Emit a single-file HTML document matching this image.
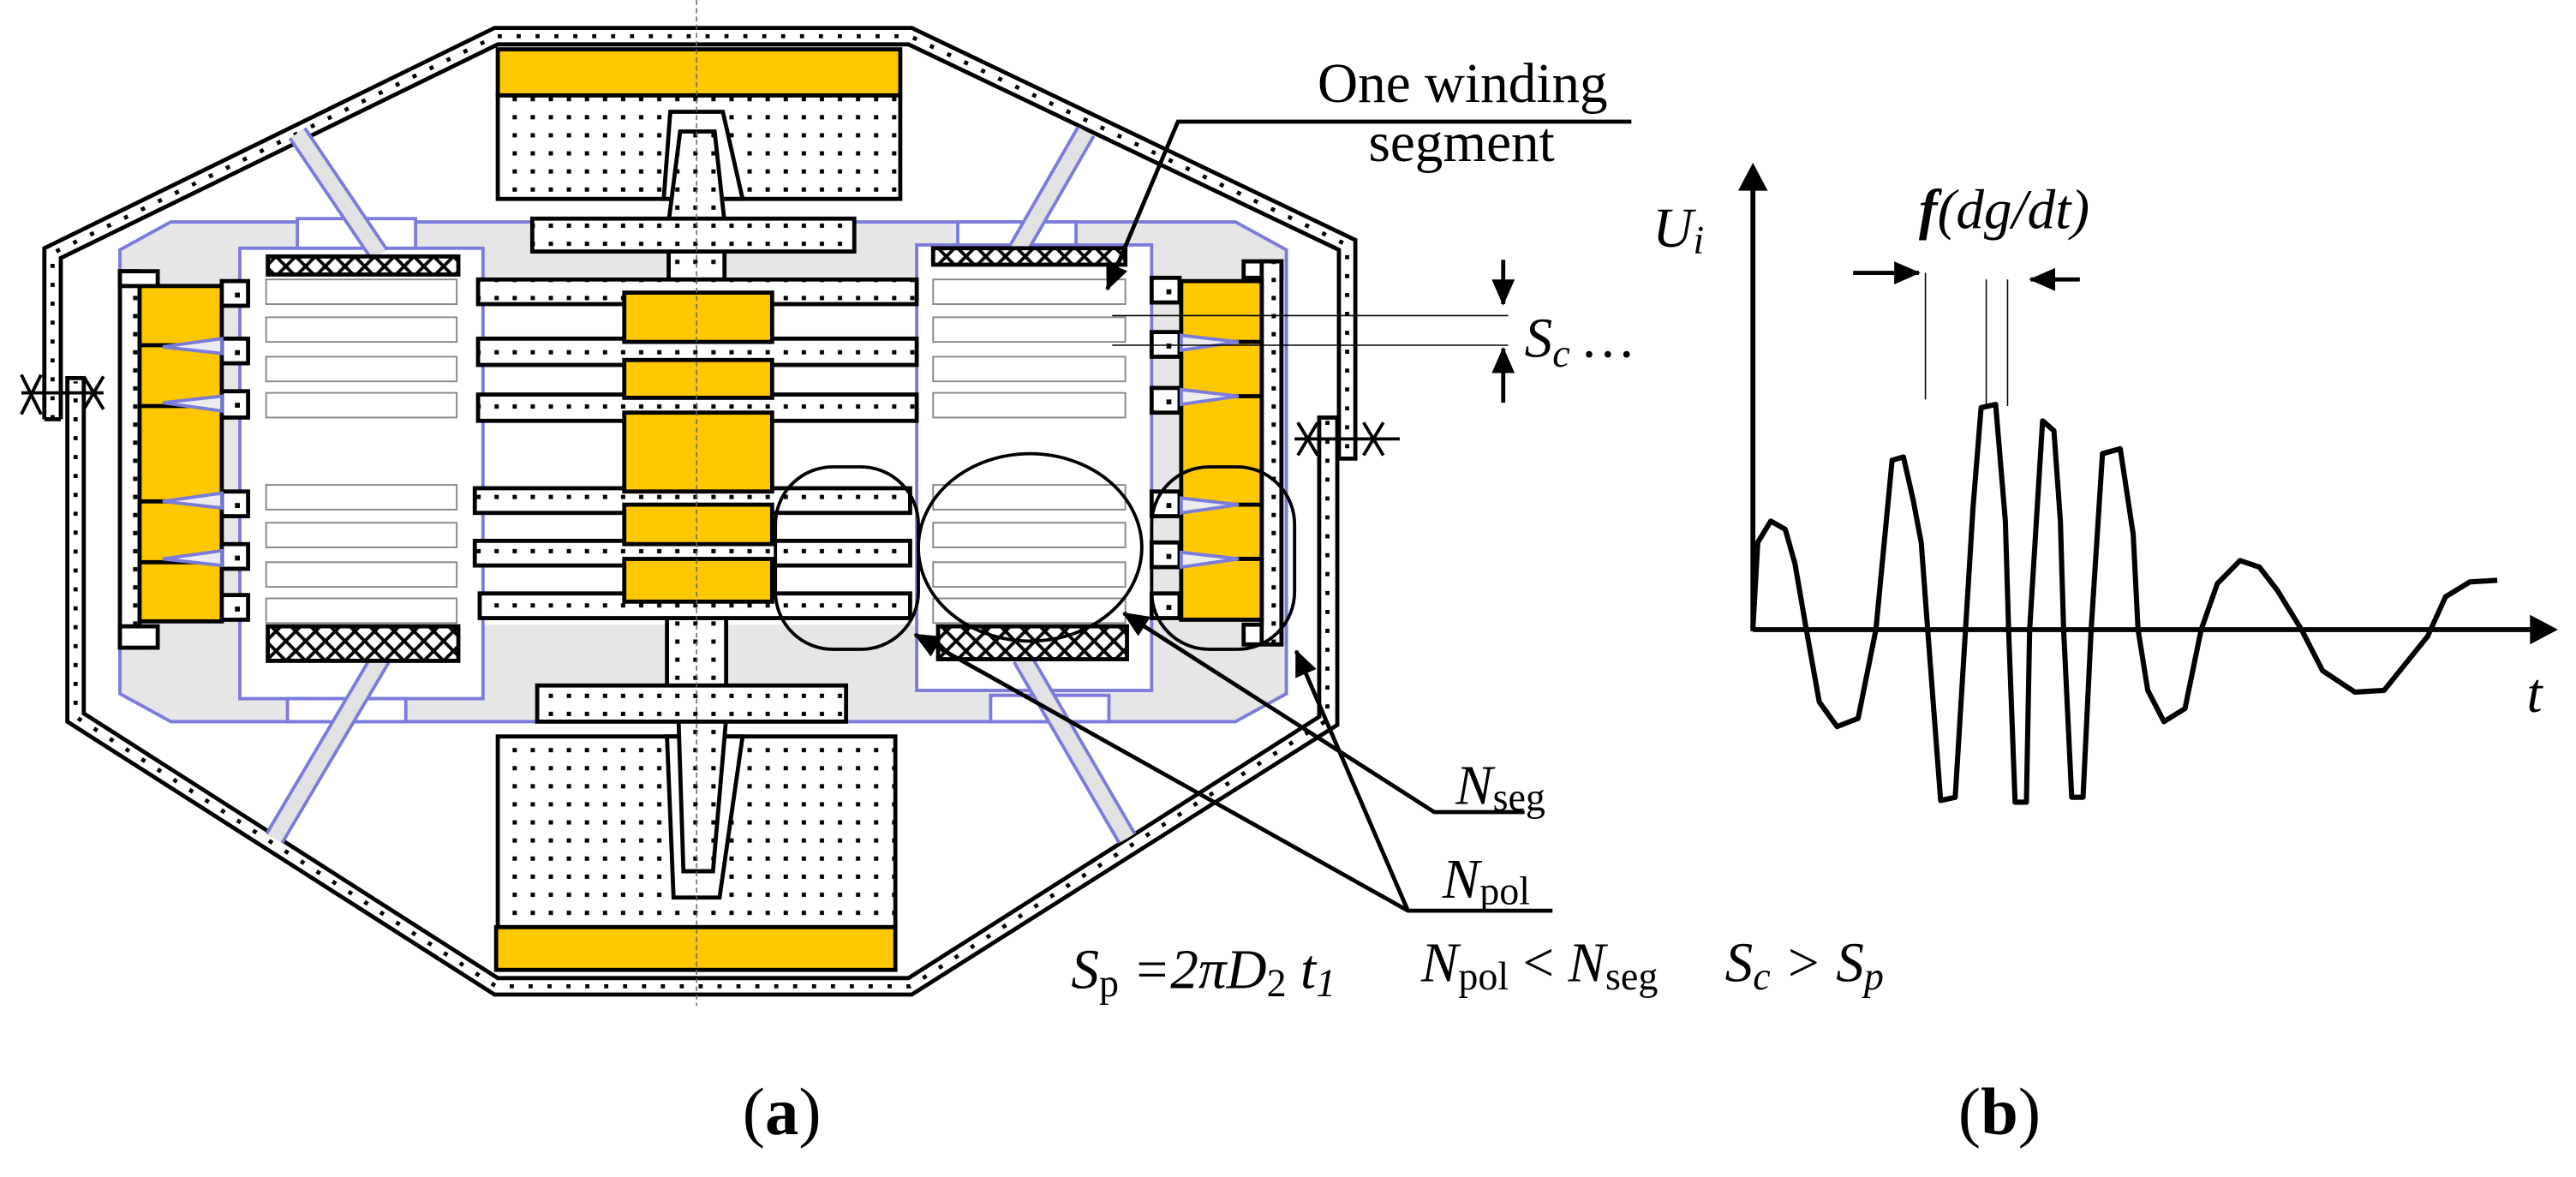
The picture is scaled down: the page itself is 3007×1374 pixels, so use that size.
<!DOCTYPE html>
<html><head><meta charset="utf-8"><style>html,body{margin:0;padding:0;background:#fff}svg{display:block}</style></head>
<body>
<svg xmlns="http://www.w3.org/2000/svg" width="3007" height="1374" viewBox="0 0 1568 716" preserveAspectRatio="none" font-family="'Liberation Serif',serif">
<defs>
<pattern id="dots" width="11" height="11" patternUnits="userSpaceOnUse"><rect width="11" height="11" fill="#fff"/><rect x="4" y="4" width="2.6" height="2.6" fill="#000"/></pattern>
<pattern id="xh" width="12" height="12" patternUnits="userSpaceOnUse"><rect width="12" height="12" fill="#fff"/><path d="M0,0L12,12M12,0L0,12" stroke="#000" stroke-width="2"/></pattern>
<marker id="ah2" markerWidth="16" markerHeight="14" refX="15" refY="7" orient="auto" markerUnits="userSpaceOnUse"><path d="M0,0L16,7L0,14z" fill="#000"/></marker>
</defs>

<!-- outer ring -->
<g fill="none" stroke="#000" stroke-width="2.5">
<path d="M27,255L27,151L301,17L555,17L825,146L825,279L815,279"/>
<path d="M814,254L814,441L555,605L301,605L41,439L41,230L51,230"/>
<path d="M37,255L27,255M37,255L37,157L303,27L553,27L815,152L815,279"/>
<path d="M814,254L803,254L803,436L553,595L303,595L51,434L51,230"/>
</g>
<g fill="none" stroke="#000" stroke-width="2.5" stroke-dasharray="2.5 9">
<path d="M32,255L32,154L302,22L554,22L820,149L820,279"/>
<path d="M808,256L808,438L554,600L302,600L46,436L46,232"/>
</g>
<g stroke="#000" stroke-width="2">
<path d="M13,239L63,239M13,228L25,252M25,228L13,252M51,229L63,249M63,229L51,249"/>
<path d="M788,267L852,267M790,257L802,277M802,257L790,277M830,257L842,277M842,257L830,277"/>
</g>

<!-- gray region -->
<path d="M104,135L752,135L783,152L783,422L752,439L104,439L73,422L73,152Z" fill="#e6e6e6" stroke="#7b7bdb" stroke-width="2"/>
<rect x="294" y="168" width="264" height="212" fill="#fff"/>
<rect x="146" y="151" width="148" height="274" fill="#fff" stroke="#7b7bdb" stroke-width="2"/>
<rect x="558" y="149" width="143" height="271" fill="#fff" stroke="#7b7bdb" stroke-width="2"/>
<g fill="#fff" stroke="#7b7bdb" stroke-width="2">
<rect x="181" y="133" width="72" height="18"/><rect x="583" y="135" width="72" height="14"/>
<rect x="175" y="425" width="72" height="14"/><rect x="603" y="423" width="72" height="16"/>
</g>
<!-- struts -->
<g stroke="#7b7bdb" stroke-width="13"><path d="M181,81L231,155M661,80L619,153M232,400L167,510M622,400L686,510"/></g>
<g stroke="#e2e2e2" stroke-width="9"><path d="M181,81L231,155M661,80L619,153M232,400L167,510M622,400L686,510"/></g>

<!-- top block -->
<g stroke="#000" stroke-width="2.5">
<rect x="303" y="58" width="245" height="63" fill="url(#dots)"/>
<rect x="303" y="30" width="245" height="28" fill="#fdc800"/>
<polygon points="408,68 440,68 452,121 404,121" fill="#fff"/>
<polygon points="414,80 435,80 441,135 407,135" fill="url(#dots)"/>
<rect x="407" y="150" width="34" height="22" fill="url(#dots)"/>
<rect x="324" y="133" width="196" height="20" fill="url(#dots)"/>
<!-- bottom block -->
<rect x="303" y="448" width="242" height="116" fill="url(#dots)"/>
<polygon points="406,448 452,448 438,546 410,546" fill="#fff"/>
<polygon points="413,437 442,437 434,530 416,530" fill="url(#dots)"/>
<rect x="406" y="374" width="36" height="45" fill="url(#dots)"/>
<rect x="327" y="417" width="188" height="22" fill="url(#dots)"/>
<rect x="302" y="564" width="243" height="26" fill="#fdc800"/>
<!-- bars -->
<rect x="291" y="170" width="267" height="15" fill="url(#dots)"/>
<rect x="291" y="206" width="267" height="16" fill="url(#dots)"/>
<rect x="291" y="240" width="267" height="16" fill="url(#dots)"/>
<rect x="289" y="297" width="265" height="15" fill="url(#dots)"/>
<rect x="289" y="329" width="265" height="15" fill="url(#dots)"/>
<rect x="292" y="361" width="262" height="15" fill="url(#dots)"/>
<g fill="#fdc800">
<rect x="380" y="178" width="90" height="30"/><rect x="380" y="219" width="90" height="23"/>
<rect x="380" y="251" width="90" height="48"/><rect x="380" y="307" width="90" height="24"/>
<rect x="380" y="340" width="90" height="26"/>
</g>
</g>

<!-- slots -->
<g fill="#fff" stroke="#888" stroke-width="1">
<rect x="162" y="170" width="116" height="15"/><rect x="162" y="193" width="116" height="15"/>
<rect x="162" y="217" width="116" height="15"/><rect x="162" y="239" width="116" height="15"/>
<rect x="162" y="295" width="116" height="15"/><rect x="162" y="318" width="116" height="15"/>
<rect x="162" y="342" width="116" height="15"/><rect x="162" y="364" width="116" height="15"/>
<rect x="568" y="170" width="117" height="15"/><rect x="568" y="193" width="117" height="15"/>
<rect x="568" y="217" width="117" height="15"/><rect x="568" y="239" width="117" height="15"/>
<rect x="568" y="295" width="117" height="15"/><rect x="568" y="318" width="117" height="15"/>
<rect x="568" y="342" width="117" height="15"/><rect x="568" y="364" width="117" height="15"/>
</g>
<!-- crosshatch -->
<g stroke="#000" stroke-width="2.5" fill="url(#xh)">
<rect x="163" y="156" width="116" height="11"/><rect x="163" y="381" width="116" height="21"/>
<rect x="568" y="151" width="117" height="10"/><rect x="571" y="381" width="115" height="20"/>
</g>

<!-- side columns -->
<g stroke="#000" stroke-width="2.5">
<rect x="73" y="165" width="12" height="229" fill="url(#dots)"/>
<rect x="73" y="165" width="23" height="9" fill="#fff"/><rect x="73" y="381" width="23" height="13" fill="#fff"/>
<rect x="85" y="174" width="50" height="204" fill="#fdc800"/>
<path d="M85,210L135,210M85,247L135,247M85,305L135,305M85,342L135,342"/>
<g fill="#fff"><rect x="135" y="171" width="16" height="15"/><rect x="135" y="206" width="16" height="15"/><rect x="135" y="238" width="16" height="16"/><rect x="135" y="299" width="16" height="15"/><rect x="135" y="331" width="16" height="15"/><rect x="135" y="362" width="16" height="15"/></g>
<rect x="757" y="159" width="23" height="10" fill="#fff"/><rect x="757" y="380" width="23" height="12" fill="#fff"/>
<rect x="768" y="159" width="12" height="233" fill="url(#dots)"/>
<rect x="719" y="171" width="49" height="206" fill="#fdc800"/>
<path d="M719,208L768,208M719,241L768,241M719,307L768,307M719,340L768,340"/>
<g fill="#fff"><rect x="701" y="169" width="17" height="15"/><rect x="701" y="202" width="17" height="15"/><rect x="701" y="236" width="17" height="15"/><rect x="701" y="299" width="17" height="15"/><rect x="701" y="330" width="17" height="15"/><rect x="701" y="361" width="17" height="15"/></g>
</g>
<g fill="#000"><rect x="143" y="178" width="3" height="3"/><rect x="143" y="213" width="3" height="3"/><rect x="143" y="245" width="3" height="3"/><rect x="143" y="306" width="3" height="3"/><rect x="143" y="338" width="3" height="3"/><rect x="143" y="369" width="3" height="3"/>
<rect x="710" y="176" width="3" height="3"/><rect x="710" y="209" width="3" height="3"/><rect x="710" y="243" width="3" height="3"/><rect x="710" y="306" width="3" height="3"/><rect x="710" y="337" width="3" height="3"/><rect x="710" y="368" width="3" height="3"/></g>
<g fill="#ececec" stroke="#7b7bdb" stroke-width="2">
<polygon points="135,206 135,215 99,211"/><polygon points="135,241 135,250 99,245"/><polygon points="135,300 135,309 99,305"/><polygon points="135,335 135,344 99,340"/>
<polygon points="719,204 719,213 754,208"/><polygon points="719,237 719,246 754,241"/><polygon points="719,303 719,312 754,307"/><polygon points="719,336 719,345 754,340"/>
</g>

<line x1="424" y1="0" x2="424" y2="612" stroke="#666" stroke-width="0.8" stroke-dasharray="3 2"/>

<!-- ellipses -->
<g fill="none" stroke="#000" stroke-width="2">
<rect x="472" y="284" width="87" height="111" rx="35"/>
<ellipse cx="627" cy="333" rx="68" ry="57"/>
<rect x="701" y="284" width="87" height="111" rx="35"/>
</g>

<!-- leaders -->
<g fill="none" stroke="#000" stroke-width="2.5">
<polyline points="993,74 717,74 674,176" marker-end="url(#ah2)"/>
<polyline points="928,494 873,494 684,373" marker-end="url(#ah2)"/>
<polyline points="945,554 857,554 557,386" marker-end="url(#ah2)"/>
<polyline points="857,554 789,396" marker-end="url(#ah2)"/>
<line x1="915" y1="158" x2="915" y2="185" marker-end="url(#ah2)"/>
<line x1="915" y1="245" x2="915" y2="212" marker-end="url(#ah2)"/>
</g>
<g stroke="#000" stroke-width="0.8"><line x1="677" y1="192" x2="918" y2="192"/><line x1="677" y1="210" x2="918" y2="210"/></g>

<g font-size="34" fill="#000">
<text x="802" y="62">One winding</text>
<text x="833" y="98">segment</text>
<text x="928" y="217" font-style="italic">S<tspan font-size="24" dy="6">c</tspan><tspan dy="-6"> …</tspan></text>
<text x="886" y="489" font-style="italic">N<tspan font-style="normal" font-size="24" dy="4">seg</tspan></text>
<text x="878" y="546" font-style="italic">N<tspan font-style="normal" font-size="24" dy="4">pol</tspan></text>
<text x="652" y="601" font-style="italic">S<tspan font-style="normal" font-size="24" dy="5">p</tspan><tspan dy="-5"> =2</tspan><tspan>π</tspan>D<tspan font-style="normal" font-size="24" dy="5">2</tspan><tspan dy="-5"> t</tspan><tspan font-size="24" dy="5">1</tspan></text>
<text x="865" y="597" font-style="italic">N<tspan font-style="normal" font-size="24" dy="5">pol</tspan><tspan font-style="normal" dy="-5"> &lt; </tspan>N<tspan font-style="normal" font-size="24" dy="5">seg</tspan></text>
<text x="1050" y="597" font-style="italic">S<tspan font-size="24" dy="5">c</tspan><tspan dy="-5"> &gt; S</tspan><tspan font-size="24" dy="5">p</tspan></text>
<text x="1006" y="150" font-style="italic">U<tspan font-size="24" dy="4">i</tspan></text>
<text x="1168" y="139" font-style="italic"><tspan font-weight="bold">f</tspan>(dg/dt)</text>
<text x="1538" y="433" font-style="italic">t</text>
<text x="452" y="690" font-size="41">(<tspan font-weight="bold">a</tspan>)</text>
<text x="1192" y="690" font-size="41">(<tspan font-weight="bold">b</tspan>)</text>
</g>

<!-- chart b -->
<g stroke="#000" stroke-width="3" fill="none">
<line x1="1067" y1="384" x2="1067" y2="112"/>
<line x1="1067" y1="383" x2="1542" y2="383"/>
</g>
<path d="M1058,116L1067,99L1076,116Z" fill="#000"/>
<path d="M1540,374L1557,383L1540,392Z" fill="#000"/>
<g stroke="#000" stroke-width="2.5" fill="none">
<line x1="1128" y1="166" x2="1168" y2="166" marker-end="url(#ah2)"/>
<line x1="1266" y1="170" x2="1236" y2="170" marker-end="url(#ah2)"/>
</g>
<g stroke="#000" stroke-width="0.8"><line x1="1172" y1="166" x2="1172" y2="243"/><line x1="1209" y1="170" x2="1209" y2="247"/><line x1="1222" y1="170" x2="1222" y2="247"/></g>
<polyline transform="translate(1067,0) scale(0.985,1) translate(-1067,0)" fill="none" stroke="#000" stroke-width="3.2" stroke-linejoin="round" points="1067,382 1070,330 1078,317 1087,322 1093,343 1100,383 1108,427 1119,442 1132,437 1143,383 1153,280 1160,278 1166,304 1171,330 1175,383 1183,487 1192,485 1203,309 1208,248 1217,246 1223,317 1225,383 1229,488 1236,488 1238,383 1246,256 1253,262 1257,317 1259,383 1264,485 1271,485 1276,383 1283,276 1294,273 1302,325 1305,383 1311,420 1321,439 1334,431 1344,383 1354,355 1368,341 1380,345 1391,359 1406,383 1419,408 1439,421 1457,420 1484,387 1495,363 1510,354 1527,353"/>
</svg>
</body></html>
